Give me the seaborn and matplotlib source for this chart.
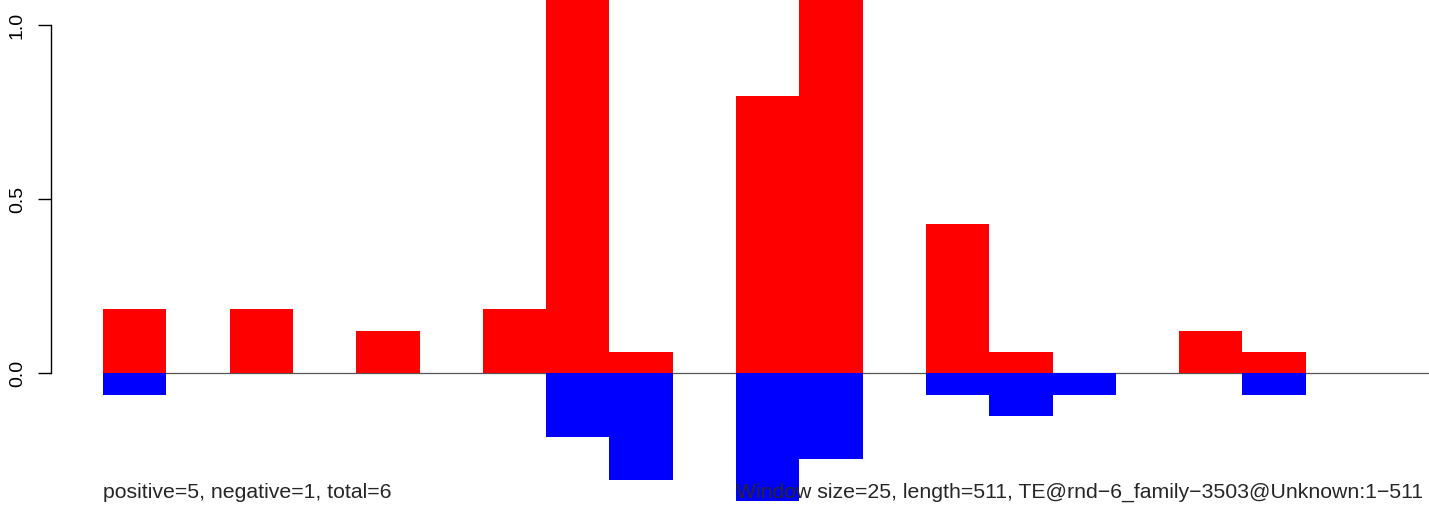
import numpy as np
import pandas as pd
import matplotlib
matplotlib.use("Agg")
import matplotlib.pyplot as plt
import seaborn as sns

# window starts (size 25) along a 511 bp element
window_size = 25
seq_length = 511
window_start = list(range(0, 525, 25))

# (top two windows run past the top of the plot)
positive = [0.185, 0, 0.185, 0, 0.121, 0, 0.185, 1.2, 0.061, 0, 0.798,
            1.2, 0, 0.429, 0.061, 0, 0, 0.121, 0.061, 0, 0]
negative = [-0.062, 0, 0, 0, 0, 0, 0, -0.183, -0.307, 0, -0.366,
            -0.246, 0, -0.062, -0.123, -0.062, 0, 0, -0.062, 0, 0]

left_label = "positive=5, negative=1, total=6"
right_label = ("Window size=25, length=511, "
               "TE@rnd\u22126_family\u22123503@Unknown:1\u2212511")

df = pd.DataFrame({
    "center": [s + window_size / 2 for s in window_start],
    "positive": positive,
    "negative": negative,
})

sns.set_style("white")
plt.rcParams["font.family"] = ["Liberation Sans", "DejaVu Sans"]

fig = plt.figure(figsize=(14.29, 5.08), dpi=100)
ax = fig.add_axes([0, 0, 1, 1])

# baseline under the bars
ax.hlines(0, 0, 560, color="#555555", linewidth=0.9, zorder=0)

sns.barplot(data=df, x="center", y="positive", native_scale=True, width=1,
            color="red", saturation=1, linewidth=0, errorbar=None, ax=ax,
            zorder=2)
sns.barplot(data=df, x="center", y="negative", native_scale=True, width=1,
            color="blue", saturation=1, linewidth=0, errorbar=None, ax=ax,
            zorder=2)

ax.set_xlim(-103 / 2.532, (1429 - 103) / 2.532)
ax.set_ylim(-(508 - 373.3) / 348, 373.3 / 348)

for side in ["top", "right", "bottom"]:
    ax.spines[side].set_visible(False)
ax.spines["left"].set_position(("data", -20.66))
ax.spines["left"].set_bounds(0, 1)
ax.spines["left"].set_color("black")
ax.spines["left"].set_linewidth(1.0)

ax.set_xticks([])
ax.set_yticks([0, 0.5, 1.0])
ax.set_yticklabels(["0.0", "0.5", "1.0"], rotation=90, va="center")
ax.tick_params(axis="y", left=True, length=9.4, width=1.0, pad=8.5,
               labelsize=14, colors="black")
ax.set_xlabel("")
ax.set_ylabel("")

ax.text(0, -0.358, left_label, fontsize=15.3, ha="left", va="baseline", zorder=5)
ax.text(250, -0.358, right_label, fontsize=15.3, ha="left", va="baseline", zorder=5)

fig.savefig("out.png", dpi=100)
